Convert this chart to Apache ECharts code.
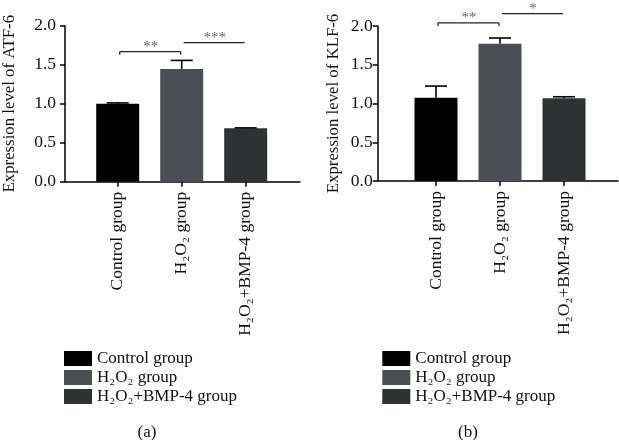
<!DOCTYPE html>
<html>
<head>
<meta charset="utf-8">
<script src="https://cdn.jsdelivr.net/npm/echarts@6/dist/echarts.min.js"></script>
<style>html,body{margin:0;padding:0;background:#fff}#c{width:619px;height:440px}</style>
</head>
<body>
<div id="c"></div>
<script>
// ---- data ----
const categories = ['Control group', 'H\u2082O\u2082 group', 'H\u2082O\u2082+BMP-4 group'];
const colors = ['#000000', '#4c4e55', '#2e3233'];
const atfMeans = [1.0, 1.445, 0.685];
const atfErrors = [0.01, 0.11, 0.005];
const klfMeans = [1.075, 1.772, 1.067];
const klfErrors = [0.15, 0.073, 0.02];
// significance: [fromIndex, toIndex, yValue, label, bracketEnds]
const atfSignif = [[0, 1, 1.667, '**', 1], [1, 2, 1.782, '***', 0]];
const klfSignif = [[0, 1, 2.04, '**', 1], [1, 2, 2.16, '*', 0]];
const yTicks = { min: 0, max: 2.0, interval: 0.5 };
const yTitles = ['Expression level of ATF-6', 'Expression level of KLF-6'];
const panelLabels = ['(a)', '(b)'];

const FONT = 'Liberation Serif';
const FS = 17.5;
const FS_TITLE = 16.8;
const FS_LEG = 17;

const chart = echarts.init(document.getElementById('c'));

function errRender(params, api) {
  const x = api.value(0), m = api.value(1), e = api.value(2);
  const p0 = api.coord([x, m]);
  const p1 = api.coord([x, m + e]);
  const hw = 11;
  const st = { stroke: '#000', lineWidth: 1.6 };
  return { type: 'group', children: [
    { type: 'line', shape: { x1: p0[0], y1: p0[1], x2: p1[0], y2: p1[1] }, style: st },
    { type: 'line', shape: { x1: p1[0] - hw, y1: p1[1], x2: p1[0] + hw, y2: p1[1] }, style: st }
  ]};
}

function panel(means, errors, signif, barGrid) {
  const series = [];
  categories.forEach((name, i) => {
    series.push({
      type: 'bar', name: name, xAxisIndex: barGrid, yAxisIndex: barGrid,
      data: means.map((v, j) => j === i ? v : '-'),
      barWidth: 43, barGap: '-100%',
      itemStyle: { color: colors[i] }, z: 2
    });
  });
  series.push({
    type: 'custom', xAxisIndex: barGrid, yAxisIndex: barGrid, clip: false, z: 3,
    data: means.map((v, j) => [j, v, errors[j]]),
    renderItem: errRender
  });
  series.push({
    type: 'custom', xAxisIndex: barGrid, yAxisIndex: barGrid, clip: false, z: 3,
    data: signif.map(s => [s[0], s[1], s[2], s[4]]),
    renderItem: function (params, api) {
      const a = api.coord([api.value(0), api.value(2)]);
      const b = api.coord([api.value(1), api.value(2)]);
      const ends = api.value(3);
      const x1 = a[0] + 2, x2 = b[0] - 1, y = a[1];
      const st = { stroke: '#222', lineWidth: 1.3 };
      const children = [{ type: 'line', shape: { x1: x1, y1: y, x2: x2, y2: y }, style: st }];
      if (ends) {
        children.push({ type: 'line', shape: { x1: x1, y1: y, x2: x1, y2: y + 3 }, style: st });
        children.push({ type: 'line', shape: { x1: x2, y1: y, x2: x2, y2: y + 3 }, style: st });
      }
      children.push({ type: 'text', style: {
        text: signif[params.dataIndex][3], x: (x1 + x2) / 2 + 0.5, y: y - 5,
        align: 'center', verticalAlign: 'middle', fill: '#666',
        fontSize: 15, fontFamily: FONT
      }});
      return { type: 'group', children: children };
    }
  });
  return series;
}

const axisLineStyle = { color: '#000', width: 1.5 };

function valueXAxis(g) {
  return { gridIndex: g, type: 'value', min: 0, max: 1, axisLine: { show: true, lineStyle: axisLineStyle },
    axisTick: { show: false }, axisLabel: { show: false }, splitLine: { show: false } };
}
function catXAxis(g) {
  return { gridIndex: g, type: 'category', data: categories, axisLine: { show: false },
    axisTick: { show: true, alignWithLabel: true, length: 5, lineStyle: axisLineStyle },
    axisLabel: { rotate: 90, margin: 10, fontFamily: FONT, fontSize: FS, color: '#111' } };
}
function mainYAxis(g, title, gap, margin) {
  return { gridIndex: g, type: 'value', min: yTicks.min, max: yTicks.max, interval: yTicks.interval,
    name: title, nameLocation: 'middle', nameGap: gap,
    nameTextStyle: { fontFamily: FONT, fontSize: FS_TITLE, color: '#111' },
    axisLine: { show: true, lineStyle: axisLineStyle },
    axisTick: { show: true, length: 5, lineStyle: axisLineStyle },
    axisLabel: { margin: margin, fontFamily: FONT, fontSize: FS, color: '#111', formatter: v => v.toFixed(1) },
    splitLine: { show: false } };
}
function legendAt(left) {
  return { left: left, top: 350, orient: 'vertical', icon: 'rect', itemWidth: 28, itemHeight: 15, itemGap: 2,
    data: categories, selectedMode: false, padding: 0,
    textStyle: { fontFamily: FONT, fontSize: FS_LEG, color: '#111', lineHeight: 15 } };
}

const option = {
  animation: false,
  grid: [
    { left: 64.3, right: 319, top: 25.7, bottom: 258.3 },
    { left: 85.7, width: 192, top: 25.7, bottom: 258.3 },
    { left: 377.7, right: 1, top: 26, bottom: 259 },
    { left: 404, width: 192, top: 26, bottom: 259 }
  ],
  xAxis: [valueXAxis(0), catXAxis(1), valueXAxis(2), catXAxis(3)],
  yAxis: [
    mainYAxis(0, yTitles[0], 47, 9),
    { gridIndex: 1, type: 'value', min: yTicks.min, max: yTicks.max, show: false },
    mainYAxis(2, yTitles[1], 36, 5),
    { gridIndex: 3, type: 'value', min: yTicks.min, max: yTicks.max, show: false }
  ],
  legend: [legendAt(64), legendAt(382.3)],
  graphic: [
    { type: 'text', x: 147, y: 433, style: { text: panelLabels[0], align: 'center', verticalAlign: 'middle', fontFamily: FONT, fontSize: FS_LEG, fill: '#111' } },
    { type: 'text', x: 468, y: 433, style: { text: panelLabels[1], align: 'center', verticalAlign: 'middle', fontFamily: FONT, fontSize: FS_LEG, fill: '#111' } }
  ],
  series: [].concat(
    panel(atfMeans, atfErrors, atfSignif, 1),
    panel(klfMeans, klfErrors, klfSignif, 3)
  )
};
chart.setOption(option);
</script>
</body>
</html>
